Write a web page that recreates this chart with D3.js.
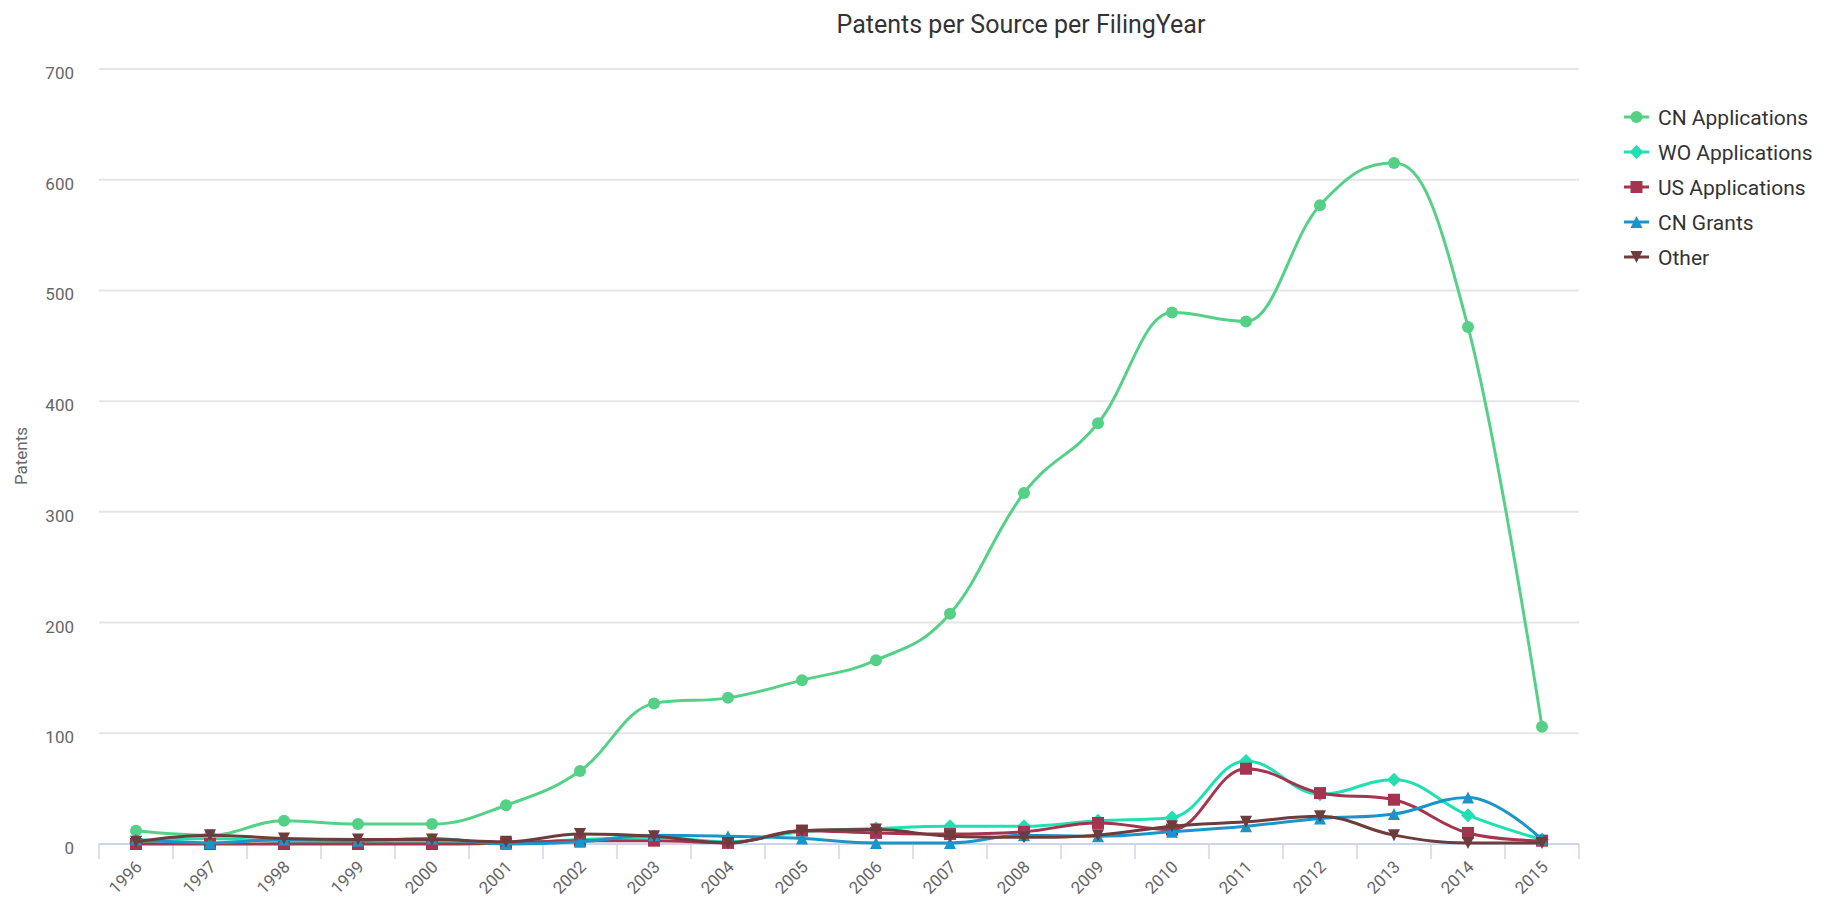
<!DOCTYPE html>
<html lang="en">
<head>
    <meta charset="UTF-8">
    <title>Patents per Source per FilingYear</title>
    <script src="https://cdn.jsdelivr.net/npm/d3@7"></script>
    <style>
        body { margin:0; background:#fff; }
        .chart text { font-family: Roboto, "Noto Sans", sans-serif; }
        .grid line { stroke:#e6e6e6; stroke-width:2px; }
        .ylab { fill:#666; font-size:17px; text-anchor:end; }
        .xlab { fill:#666; font-size:17px; text-anchor:end; }
        .legend text { fill:#333; font-size:21px; }
    </style>
</head>
<body>
    <div class="chart"></div>
    <script>
        // 数据
        var years = ["1996","1997","1998","1999","2000","2001","2002","2003","2004","2005",
                     "2006","2007","2008","2009","2010","2011","2012","2013","2014","2015"];
        var cnApplications = [12, 8, 21, 18, 18, 35, 66, 127, 132, 148, 166, 208, 317, 380, 480, 472, 577, 615, 467, 106];
        var woApplications = [1, 5, 2, 1, 2, 1, 4, 6, 2, 11, 14, 16, 16, 21, 24, 75, 45, 58, 26, 4];
        var usApplications = [0, 0, 0, 0, 0, 1, 3, 3, 1, 12, 10, 9, 11, 19, 13, 68, 46, 40, 10, 3];
        var cnGrants = [4, 1, 4, 3, 5, 0, 2, 8, 7, 5, 1, 1, 8, 7, 11, 16, 23, 27, 42, 4];
        var other = [2, 8, 5, 4, 4, 2, 9, 7, 1, 12, 13, 7, 6, 8, 16, 20, 25, 8, 1, 1];
        var yTicks = [0, 100, 200, 300, 400, 500, 600, 700];

        var seriesNames = ["CN Applications", "WO Applications", "US Applications", "CN Grants", "Other"];
        var seriesColors = ["#55d187", "#1fe0b1", "#a5344f", "#1b95c9", "#6e3c3c"];
        var seriesSymbols = ["circle", "diamond", "square", "triangle", "triangle-down"];
        var seriesData = [cnApplications, woApplications, usApplications, cnGrants, other];

        var W = 1825, H = 897;
        var plotL = 99, plotR = 1579, plotT = 69, plotB = 844;

        var svg = d3.select(".chart").append("svg")
            .attr("width", W).attr("height", H);

        var x = d3.scaleBand().domain(years).range([plotL, plotR]);
        var y = d3.scaleLinear().domain([0, 700]).range([plotB, plotT]);

        // highcharts 风格的 spline
        function HcSpline(context) { this._context = context; }
        HcSpline.prototype = {
            areaStart: function(){}, areaEnd: function(){},
            lineStart: function(){ this._pts = []; },
            point: function(px, py){ this._pts.push([+px, +py]); },
            lineEnd: function(){
                var p = this._pts, c = this._context, s = 1.5, den = 2.5;
                var rc = [];
                for (var i = 0; i < p.length; i++) {
                    var px = p[i][0], py = p[i][1];
                    if (i == 0) { c.moveTo(px, py); continue; }
                    var lx = p[i-1][0], ly = p[i-1][1];
                    var lcx = px, lcy = py;
                    if (i < p.length - 1) {
                        var nx = p[i+1][0], ny = p[i+1][1];
                        lcx = (s*px + lx)/den; lcy = (s*py + ly)/den;
                        var rcx = (s*px + nx)/den, rcy = (s*py + ny)/den;
                        var corr = (rcy - lcy) * (rcx - px) / (rcx - lcx) + py - rcy;
                        lcy += corr; rcy += corr;
                        if (lcy > ly && lcy > py) { lcy = Math.max(ly, py); rcy = 2*py - lcy; }
                        else if (lcy < ly && lcy < py) { lcy = Math.min(ly, py); rcy = 2*py - lcy; }
                        if (rcy > ny && rcy > py) { rcy = Math.max(ny, py); lcy = 2*py - rcy; }
                        else if (rcy < ny && rcy < py) { rcy = Math.min(ny, py); lcy = 2*py - rcy; }
                        rc[i] = [rcx, rcy];
                    }
                    var prev = rc[i-1] || p[i-1];
                    c.bezierCurveTo(prev[0], prev[1], lcx, lcy, px, py);
                }
            }
        };
        var curveHc = function(ctx){ return new HcSpline(ctx); };

        function markerPath(type, r) {
            var p = d3.path();
            if (type == "circle") { p.arc(0, 0, r, 0, 2*Math.PI); }
            else if (type == "square") { p.rect(-r, -r, 2*r, 2*r); }
            else if (type == "diamond") { p.moveTo(0,-r); p.lineTo(r,0); p.lineTo(0,r); p.lineTo(-r,0); p.closePath(); }
            else if (type == "triangle") { p.moveTo(0,-r); p.lineTo(r,r); p.lineTo(-r,r); p.closePath(); }
            else { p.moveTo(-r,-r); p.lineTo(r,-r); p.lineTo(0,r); p.closePath(); }
            return p.toString();
        }
        var markerR = t => t == "diamond" ? 7 : 6;

        // 标题
        svg.append("text")
            .attr("x", 1021).attr("y", 33)
            .attr("text-anchor", "middle")
            .style("font-size", "25px").style("fill", "#333")
            .text("Patents per Source per FilingYear");

        // 网格线 + y 轴标签
        var grid = svg.append("g").attr("class", "grid");
        grid.selectAll("line").data(yTicks.slice(1)).enter().append("line")
            .attr("x1", plotL).attr("x2", plotR)
            .attr("y1", d => y(d)).attr("y2", d => y(d));
        svg.append("g").selectAll("text").data(yTicks).enter().append("text")
            .attr("class", "ylab")
            .attr("x", 74).attr("y", d => y(d) + 10)
            .text(d => d);

        svg.append("text")
            .attr("transform", "translate(27,456) rotate(-90)")
            .attr("text-anchor", "middle")
            .style("font-size", "17px").style("fill", "#666")
            .text("Patents");

        // x 轴
        var xAxis = svg.append("g").attr("class", "xaxis");
        xAxis.append("line")
            .attr("x1", plotL).attr("x2", plotR).attr("y1", plotB).attr("y2", plotB)
            .attr("stroke", "#ccd6eb").attr("stroke-width", 2);
        xAxis.selectAll(".tick").data(years.concat(["end"])).enter().append("line")
            .attr("class", "tick")
            .attr("x1", (d, i) => plotL + i * x.step()).attr("x2", (d, i) => plotL + i * x.step())
            .attr("y1", plotB).attr("y2", plotB + 15)
            .attr("stroke", "#ccd6eb").attr("stroke-width", 1.5);
        xAxis.selectAll(".xlab").data(years).enter().append("text")
            .attr("class", "xlab")
            .attr("transform", d => "translate(" + (x(d) + x.bandwidth()/2 + 7) + "," + (plotB + 24) + ") rotate(-45)")
            .text(d => d);

        // 折线
        var line = d3.line()
            .x((d, i) => x(years[i]) + x.bandwidth()/2)
            .y(d => y(d))
            .curve(curveHc);

        seriesData.forEach(function(data, k) {
            var g = svg.append("g").attr("class", "series");
            g.append("path")
                .attr("d", line(data))
                .attr("fill", "none")
                .attr("stroke", seriesColors[k])
                .attr("stroke-width", 3);
            g.selectAll(".pt").data(data).enter().append("path")
                .attr("class", "pt")
                .attr("transform", (d, i) => "translate(" + (x(years[i]) + x.bandwidth()/2) + "," + y(d) + ")")
                .attr("d", markerPath(seriesSymbols[k], markerR(seriesSymbols[k])))
                .attr("fill", seriesColors[k]);
        });

        // 图例
        var legend = svg.append("g").attr("class", "legend");
        var item = legend.selectAll("g").data(seriesNames).enter().append("g")
            .attr("transform", (d, i) => "translate(1624," + (117 + i * 35) + ")");
        item.append("line")
            .attr("x1", 0).attr("x2", 25)
            .attr("stroke", (d, i) => seriesColors[i]).attr("stroke-width", 3);
        item.append("path")
            .attr("transform", "translate(12.5,0)")
            .attr("d", (d, i) => markerPath(seriesSymbols[i], markerR(seriesSymbols[i])))
            .attr("fill", (d, i) => seriesColors[i]);
        item.append("text")
            .attr("x", 34).attr("y", 7.5)
            .text(d => d);
    </script>
</body>
</html>
